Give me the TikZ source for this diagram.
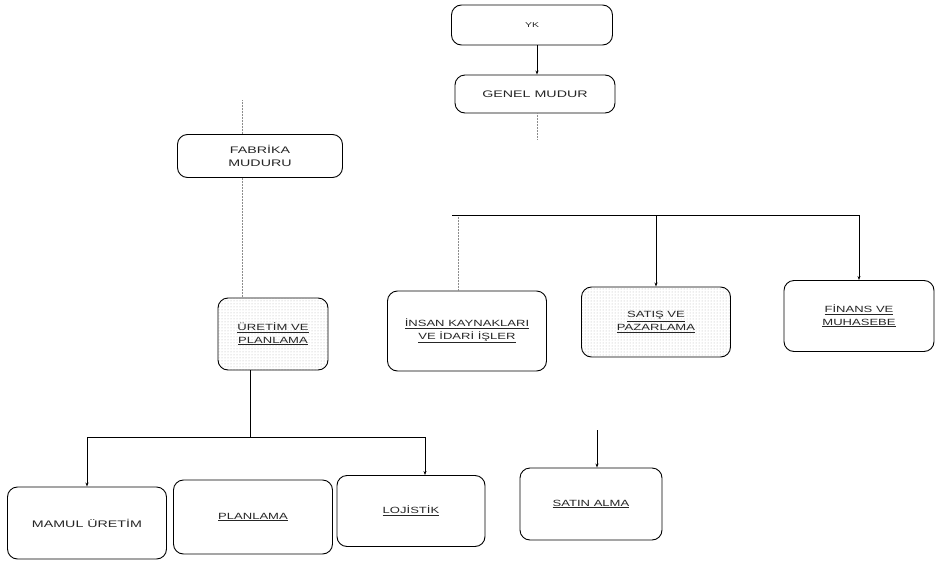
\documentclass[tikz,border=0pt]{standalone}
\usepackage{fontspec}
\setmainfont{Liberation Sans}
\newfontfamily\wideface[FakeStretch=1.5]{Liberation Sans}
\newfontfamily\ulface[FakeStretch=1.45]{Liberation Sans}
\usetikzlibrary{arrows.meta,patterns}
\newcommand{\ul}[1]{\underline{#1}}
\tikzset{
  unit/.style={draw=black, line width=0.9pt, rounded corners=10pt, align=center,
    text=black!85, font=\wideface\fontsize{9.5}{12.5}\selectfont},
  ulunit/.style={unit, font=\ulface\fontsize{9}{12.5}\selectfont},
  shaded/.style={pattern=dots, pattern color=black!30},
  link/.style={line width=0.8pt, -{Stealth[length=4pt,width=3pt]}},
  faint/.style={densely dotted, black!45, line width=0.5pt}
}

\begin{document}
\begin{tikzpicture}[x=1pt, y=-1pt]
  \useasboundingbox (0,0) rectangle (935,565);

  \node [unit, minimum width=161, minimum height=40, font=\wideface\fontsize{7}{9}\selectfont] (yk) at (532,25) {YK};
  \node [unit, minimum width=160, minimum height=38] (gm) at (535,94) {GENEL MUDUR};
  \node [unit, minimum width=165, minimum height=43] (fm) at (260,156) {FABRİKA\\MUDURU};
  \node [ulunit, shaded, minimum width=110, minimum height=72] (up) at (273,334) {\ul{ÜRETİM VE}\\\ul{PLANLAMA}};

  \node [ulunit, minimum width=159, minimum height=80] (ik) at (467,331) {\ul{İNSAN KAYNAKLARI}\\\ul{VE İDARİ İŞLER}};
  \node [ulunit, shaded, minimum width=149, minimum height=70] (sp) at (656,322) {\ul{SATIŞ VE}\\\ul{PAZARLAMA}};
  \node [ulunit, minimum width=150, minimum height=71] (fh) at (859,316) {\ul{FİNANS VE}\\\ul{MUHASEBE}};

  \node [unit, minimum width=159, minimum height=72] (mu) at (87,523) {MAMUL ÜRETİM};
  \node [ulunit, minimum width=159, minimum height=74] (pl) at (253,517) {\ul{PLANLAMA}};
  \node [ulunit, minimum width=148, minimum height=71] (lj) at (411,511) {\ul{LOJİSTİK}};
  \node [ulunit, minimum width=142, minimum height=72] (sa) at (591,504) {\ul{SATIN ALMA}};

  \coordinate (gmtail) at (537,140);
  \coordinate (fmtop) at (242,100);
  \coordinate (bar) at (452,215);
  \coordinate (upbar) at (250,437);
  \coordinate (satail) at (597,430);

  \draw [link] (yk.south -| gmtail) -- (gm.north -| gmtail);
  \draw [faint] (gm.south -| gmtail) -- (gmtail);
  \draw [faint] (fmtop) -- (fm.north -| fmtop);
  \draw [faint] (fm.south -| fmtop) -- (up.north -| fmtop);

  \draw [line width=0.8pt] (bar) -- (bar -| fh);
  \draw [faint] ([xshift=6pt]bar) -- ([xshift=6pt]bar |- ik.north);
  \draw [link] (bar) -| (sp);
  \draw [link] (bar) -| (fh);

  \draw [line width=0.8pt] (up.south -| upbar) -- (upbar);
  \draw [link] (upbar) -| (mu);
  \draw [link] (upbar) -| ([xshift=14pt]lj.north);
  \draw [link] (satail) -- (satail |- sa.north);
\end{tikzpicture}
\end{document}
